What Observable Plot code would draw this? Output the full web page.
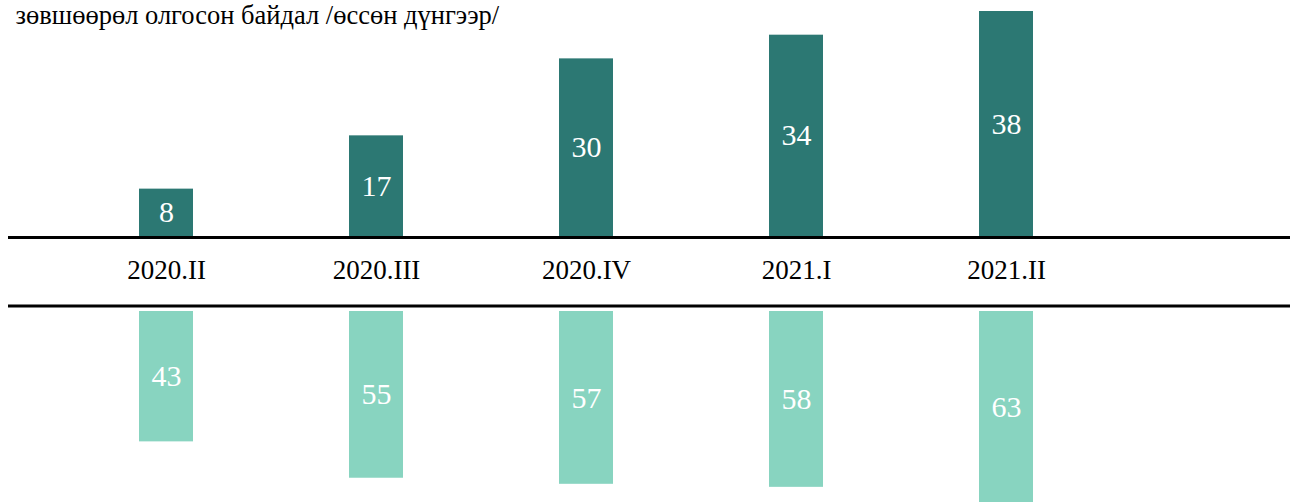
<!DOCTYPE html>
<html>
<head>
<meta charset="utf-8">
<script src="https://cdn.jsdelivr.net/npm/d3@7"></script>
<script src="https://cdn.jsdelivr.net/npm/@observablehq/plot@0.6"></script>
<style>
  body { margin: 0; background: #fff; }
  #chart svg { display: block; }
</style>
</head>
<body>
<div id="chart"></div>
<script>
const title = "зөвшөөрөл олгосон байдал /өссөн дүнгээр/";
const periods = ["2020.II", "2020.III", "2020.IV", "2021.I", "2021.II"];
const topValues = [8, 17, 30, 34, 38];
const bottomValues = [43, 55, 57, 58, 63];

const topData = periods.map((p, i) => ({period: p, value: topValues[i]}));
const bottomData = periods.map((p, i) => ({period: p, value: bottomValues[i]}));

const font = "'Liberation Serif', 'Times New Roman', 'DejaVu Serif', serif";
const xOpts = () => ({type: "band", domain: periods, range: [138, 1034], paddingInner: 0.7435, paddingOuter: 0, axis: null});

const topPlot = Plot.plot({
  width: 1295, height: 303,
  marginTop: 11, marginBottom: 67, marginLeft: 8, marginRight: 5,
  style: {fontFamily: font, background: "white", overflow: "visible"},
  x: xOpts(),
  y: {domain: [0, 38], axis: null},
  marks: [
    Plot.barY(topData, {x: "period", y: "value", fill: "#2C7873"}),
    Plot.text(topData, {x: "period", y: d => d.value / 2, text: d => String(d.value), fill: "white", fontSize: 30}),
    Plot.ruleY([0], {stroke: "black", strokeWidth: 3, dy: 1}),
    Plot.text(topData, {x: "period", frameAnchor: "bottom", dy: 42, text: "period", fontSize: 27, fill: "black"}),
    Plot.text([title], {frameAnchor: "top-left", dx: 7, dy: 12, lineAnchor: "bottom", textAnchor: "start", fontSize: 26.5, fill: "black", fontFamily: font})
  ]
});

const bottomPlot = Plot.plot({
  width: 1295, height: 199,
  marginTop: 8, marginBottom: 0, marginLeft: 8, marginRight: 5,
  style: {fontFamily: font, background: "white", overflow: "visible"},
  x: xOpts(),
  y: {domain: [0, 63], reverse: true, axis: null},
  marks: [
    Plot.barY(bottomData, {x: "period", y: "value", fill: "#88D4C0"}),
    Plot.text(bottomData, {x: "period", y: d => d.value / 2, text: d => String(d.value), fill: "white", fontSize: 30}),
    Plot.ruleY([0], {stroke: "black", strokeWidth: 3, dy: -5.5})
  ]
});

document.getElementById("chart").append(topPlot, bottomPlot);
</script>
</body>
</html>
